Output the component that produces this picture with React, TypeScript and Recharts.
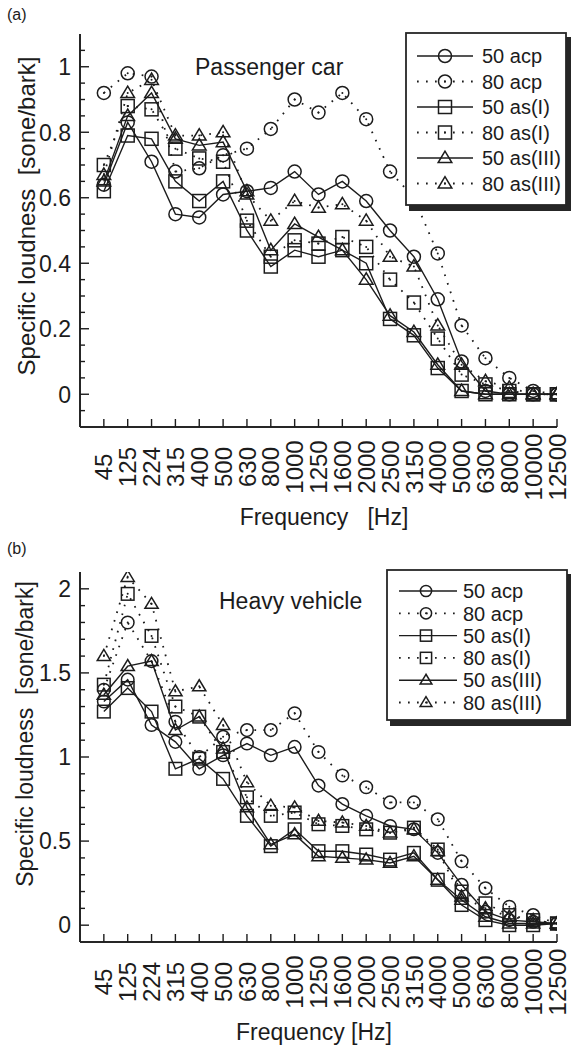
import React from "react";
import { LineChart, Line, XAxis, YAxis } from "recharts";

// frequency bands (x categories)
const FREQS = ["45", "125", "224", "315", "400", "500", "630", "800", "1000", "1250", "1600", "2000", "2500", "3150", "4000", "5000", "6300", "8000", "10000", "12500"];

// (a) Passenger car
const CAR_ACP50 = [0.64, 0.83, 0.71, 0.55, 0.54, 0.61, 0.62, 0.63, 0.68, 0.61, 0.65, 0.59, 0.5, 0.42, 0.29, 0.1, 0.01, 0.0, 0.0, 0.0];
const CAR_ACP80 = [0.92, 0.98, 0.97, 0.68, 0.69, 0.73, 0.75, 0.81, 0.9, 0.86, 0.92, 0.84, 0.68, 0.6, 0.43, 0.21, 0.11, 0.05, 0.01, 0.0];
const CAR_ASI50 = [0.62, 0.79, 0.78, 0.65, 0.59, 0.65, 0.5, 0.39, 0.44, 0.42, 0.44, 0.4, 0.23, 0.18, 0.08, 0.01, 0.0, 0.0, 0.0, 0.0];
const CAR_ASI80 = [0.7, 0.88, 0.87, 0.75, 0.72, 0.71, 0.53, 0.42, 0.47, 0.46, 0.48, 0.45, 0.35, 0.28, 0.17, 0.06, 0.03, 0.01, 0.0, 0.0];
const CAR_ASIII50 = [0.65, 0.85, 0.92, 0.78, 0.76, 0.77, 0.62, 0.44, 0.52, 0.48, 0.44, 0.35, 0.24, 0.19, 0.09, 0.01, 0.0, 0.0, 0.0, 0.0];
const CAR_ASIII80 = [0.67, 0.92, 0.96, 0.79, 0.79, 0.8, 0.61, 0.53, 0.59, 0.57, 0.58, 0.53, 0.42, 0.39, 0.21, 0.09, 0.04, 0.02, 0.0, 0.0];

// (b) Heavy vehicle
const HV_ACP50 = [1.33, 1.46, 1.19, 1.09, 0.93, 1.01, 1.08, 1.01, 1.06, 0.83, 0.72, 0.65, 0.59, 0.57, 0.43, 0.24, 0.08, 0.03, 0.02, 0.01];
const HV_ACP80 = [1.4, 1.8, 1.57, 1.21, 1.0, 1.12, 1.16, 1.16, 1.26, 1.03, 0.89, 0.82, 0.73, 0.73, 0.63, 0.38, 0.22, 0.11, 0.06, 0.01];
const HV_ASI50 = [1.27, 1.41, 1.27, 0.93, 0.99, 0.87, 0.65, 0.47, 0.57, 0.44, 0.44, 0.42, 0.39, 0.43, 0.27, 0.12, 0.03, 0.0, 0.0, 0.01];
const HV_ASI80 = [1.43, 1.97, 1.72, 1.3, 1.24, 1.03, 0.76, 0.65, 0.67, 0.6, 0.59, 0.57, 0.55, 0.58, 0.45, 0.2, 0.13, 0.06, 0.03, 0.01];
const HV_ASIII50 = [1.37, 1.54, 1.57, 1.16, 1.24, 1.05, 0.7, 0.48, 0.54, 0.41, 0.4, 0.39, 0.37, 0.41, 0.27, 0.15, 0.05, 0.01, 0.01, 0.01];
const HV_ASIII80 = [1.6, 2.07, 1.91, 1.39, 1.42, 1.19, 0.85, 0.71, 0.7, 0.62, 0.61, 0.59, 0.55, 0.57, 0.44, 0.17, 0.1, 0.05, 0.03, 0.01];

// y ticks
const CAR_TICKS = [-0.05, 0, 0.05, 0.1, 0.15, 0.2, 0.25, 0.3, 0.35, 0.4, 0.45, 0.5, 0.55, 0.6, 0.65, 0.7, 0.75, 0.8, 0.85, 0.9, 0.95, 1, 1.05];
const CAR_MAJOR = [0, 0.2, 0.4, 0.6, 0.8, 1];
const HV_TICKS = [0, 0.1, 0.2, 0.3, 0.4, 0.5, 0.6, 0.7, 0.8, 0.9, 1, 1.1, 1.2, 1.3, 1.4, 1.5, 1.6, 1.7, 1.8, 1.9, 2];
const HV_MAJOR = [0, 0.5, 1, 1.5, 2];

const SERIES = [
  { key: "acp50", name: "50 acp", shape: "circle", dotted: false },
  { key: "acp80", name: "80 acp", shape: "circle", dotted: true },
  { key: "asI50", name: "50 as(I)", shape: "square", dotted: false },
  { key: "asI80", name: "80 as(I)", shape: "square", dotted: true },
  { key: "asIII50", name: "50 as(III)", shape: "triangle", dotted: false },
  { key: "asIII80", name: "80 as(III)", shape: "triangle", dotted: true },
];

const INK = "#1c1c1c";
const FONT = "'Liberation Sans', Arial, Helvetica, sans-serif";
const DOTS = "1.7 7.3";
const X_TICKS = FREQS.map((_, i) => i);

const carRows = FREQS.map((f, i) => ({
  i, f,
  acp50: CAR_ACP50[i], acp80: CAR_ACP80[i],
  asI50: CAR_ASI50[i], asI80: CAR_ASI80[i],
  asIII50: CAR_ASIII50[i], asIII80: CAR_ASIII80[i],
}));

const hvRows = FREQS.map((f, i) => ({
  i, f,
  acp50: HV_ACP50[i], acp80: HV_ACP80[i],
  asI50: HV_ASI50[i], asI80: HV_ASI80[i],
  asIII50: HV_ASIII50[i], asIII80: HV_ASIII80[i],
}));

function Marker({ cx, cy, shape, dotted, s }: any) {
  if (cx == null || cy == null) return null;
  let el;
  if (shape === "circle") {
    el = <circle cx={cx} cy={cy} r={s} fill="none" stroke={INK} strokeWidth={1.5} />;
  } else if (shape === "square") {
    el = <rect x={cx - s} y={cy - s} width={2 * s} height={2 * s} fill="none" stroke={INK} strokeWidth={1.5} />;
  } else {
    const w = s * 1.05;
    el = (
      <polygon
        points={`${cx},${cy - s * 1.05} ${cx - w},${cy + s * 0.7} ${cx + w},${cy + s * 0.7}`}
        fill="none" stroke={INK} strokeWidth={1.5} strokeLinejoin="miter"
      />
    );
  }
  return (
    <g>
      {el}
      {dotted && <circle cx={cx} cy={cy} r={1} fill={INK} />}
    </g>
  );
}

const BottomTick = ({ x, y, payload }: any) => (
  <g>
    <line x1={x} y1={y} x2={x} y2={y - 8} stroke={INK} strokeWidth={1.4} />
    <text
      x={x} y={y + 40} dy="0.36em"
      transform={`rotate(-90 ${x} ${y + 40})`}
      textAnchor="middle" fontSize={24} fontFamily={FONT} fill={INK}
    >
      {FREQS[payload.value]}
    </text>
  </g>
);

const TopTick = ({ x, y }: any) => (
  <line x1={x} y1={y} x2={x} y2={y + 8} stroke={INK} strokeWidth={1.4} />
);

const makeLeftTick = (major: number[]) => ({ x, y, payload }: any) => {
  const isMajor = major.includes(payload.value);
  return (
    <g>
      <line x1={x} y1={y} x2={x + (isMajor ? 9 : 5)} y2={y} stroke={INK} strokeWidth={1.4} />
      {isMajor && (
        <text x={x - 9} y={y} dy="0.36em" textAnchor="end" fontSize={23} fontFamily={FONT} fill={INK}>
          {String(payload.value)}
        </text>
      )}
    </g>
  );
};

const makeRightTick = (major: number[]) => ({ x, y, payload }: any) => {
  const isMajor = major.includes(payload.value);
  return <line x1={x} y1={y} x2={x - (isMajor ? 9 : 5)} y2={y} stroke={INK} strokeWidth={1.4} />;
};

const FRAME = { stroke: "#262626", strokeWidth: 2 };

function Panel({ rows, domain, ticks, major, height, top, bottom, markerSize }: any) {
  return (
    <LineChart width={571} height={height} data={rows} margin={{ top, right: 14, bottom: 0, left: 0 }}>
      <XAxis
        xAxisId="b" dataKey="i" type="number" domain={[-1, 19]} ticks={X_TICKS} interval={0}
        height={bottom} tickSize={0} tickMargin={0} tickLine={false} axisLine={FRAME}
        tick={BottomTick} allowDataOverflow
      />
      <XAxis
        xAxisId="t" orientation="top" dataKey="i" type="number" domain={[-1, 19]} ticks={X_TICKS}
        interval={0} height={0} tickSize={0} tickMargin={0} tickLine={false} axisLine={FRAME}
        tick={TopTick} allowDataOverflow
      />
      <YAxis
        yAxisId="l" type="number" domain={domain} ticks={ticks} interval={0} width={80}
        tickSize={0} tickMargin={0} tickLine={false} axisLine={FRAME}
        tick={makeLeftTick(major)} allowDataOverflow
      />
      <YAxis
        yAxisId="r" orientation="right" type="number" domain={domain} ticks={ticks} interval={0}
        width={0} tickSize={0} tickMargin={0} tickLine={false} axisLine={FRAME}
        tick={makeRightTick(major)} allowDataOverflow
      />
      {SERIES.map((s) => (
        <Line
          key={s.key}
          xAxisId="b"
          yAxisId="l"
          type="linear"
          dataKey={s.key}
          name={s.name}
          stroke={INK}
          strokeWidth={s.dotted ? 1.8 : 1.4}
          strokeDasharray={s.dotted ? DOTS : undefined}
          isAnimationActive={false}
          activeDot={false}
          dot={(p: any) => (
            <Marker key={`${s.key}-${p.index}`} cx={p.cx} cy={p.cy} shape={s.shape} dotted={s.dotted} s={markerSize} />
          )}
        />
      ))}
    </LineChart>
  );
}

function LegendBox({ x, y, w, h, rowY, rowGap, lineX1, lineX2, markX, textX, fontSize, s }: any) {
  return (
    <g>
      <rect x={x + 3} y={y + h} width={w + 2} height={6} fill="#262626" />
      <rect x={x + w} y={y + 4} width={5} height={h + 2} fill="#262626" />
      <rect x={x} y={y} width={w} height={h} fill="#fff" stroke="#262626" strokeWidth={1.8} />
      {SERIES.map((sr, k) => {
        const cy = rowY + k * rowGap;
        return (
          <g key={sr.key}>
            <line
              x1={lineX1} y1={cy} x2={lineX2} y2={cy} stroke={INK}
              strokeWidth={sr.dotted ? 1.8 : 1.4}
              strokeDasharray={sr.dotted ? DOTS : undefined}
            />
            <Marker cx={markX} cy={cy} shape={sr.shape} dotted={sr.dotted} s={s} />
            <text x={textX} y={cy} dy="0.36em" fontSize={fontSize} fontFamily={FONT} fill={INK}>
              {sr.name}
            </text>
          </g>
        );
      })}
    </g>
  );
}

export default function App() {
  return (
    <div style={{ position: "absolute", left: 0, top: 0, width: 571, height: 1045, background: "#fff", fontFamily: FONT }}>
      <div style={{ position: "absolute", left: 0, top: 0 }}>
        <Panel rows={carRows} domain={[-0.1, 1.1]} ticks={CAR_TICKS} major={CAR_MAJOR} height={535} top={34} bottom={108} markerSize={6.5} />
      </div>
      <div style={{ position: "absolute", left: 0, top: 530 }}>
        <Panel rows={hvRows} domain={[-0.1, 2.1]} ticks={HV_TICKS} major={HV_MAJOR} height={515} top={42} bottom={103} markerSize={6.3} />
      </div>
      <svg width={571} height={1045} style={{ position: "absolute", left: 0, top: 0, pointerEvents: "none" }}>
        <text x={7} y={20} fontSize={16} fontFamily={FONT} fill={INK}>(a)</text>
        <text x={7} y={554} fontSize={16} fontFamily={FONT} fill={INK}>(b)</text>

        <text x={195} y={75} fontSize={23} fontFamily={FONT} fill={INK}>Passenger car</text>
        <text x={219} y={609} fontSize={23} fontFamily={FONT} fill={INK}>Heavy vehicle</text>

        <text x={35} y={216} transform="rotate(-90 35 216)" textAnchor="middle" fontSize={24} fontFamily={FONT} fill={INK} style={{ whiteSpace: "pre" }}>
          {"Specific loudness  [sone/bark]"}
        </text>
        <text x={33} y={734} transform="rotate(-90 33 734)" textAnchor="middle" fontSize={23} fontFamily={FONT} fill={INK} style={{ whiteSpace: "pre" }}>
          {"Specific loudness  [sone/bark]"}
        </text>

        <text x={324} y={525} textAnchor="middle" fontSize={23} fontFamily={FONT} fill={INK} style={{ whiteSpace: "pre" }}>
          {"Frequency   [Hz]"}
        </text>
        <text x={314} y={1040} textAnchor="middle" fontSize={23} fontFamily={FONT} fill={INK}>
          Frequency [Hz]
        </text>

        <LegendBox x={406} y={33} w={160} h={172} rowY={56} rowGap={25.5} lineX1={417} lineX2={473} markX={445} textX={482} fontSize={20} s={6.5} />
        <LegendBox x={387} y={570} w={180} h={150} rowY={591} rowGap={22.3} lineX1={399} lineX2={457} markX={426} textX={463} fontSize={20} s={5.6} />
      </svg>
    </div>
  );
}
